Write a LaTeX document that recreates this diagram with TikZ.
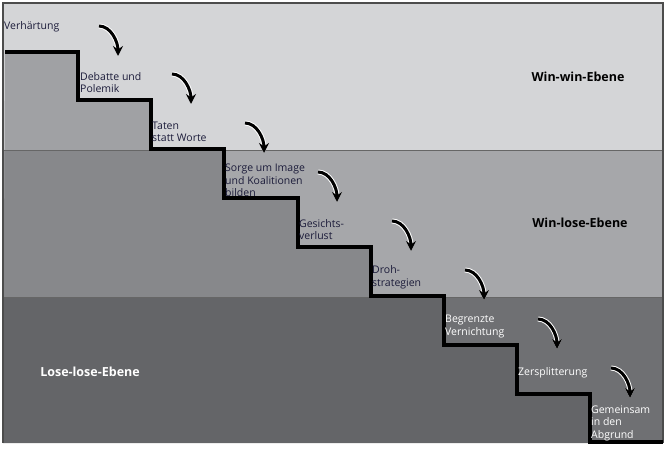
\documentclass[tikz,border=0pt]{standalone}
\usepackage{fontspec}
\setmainfont{Open Sans}
\definecolor{bandA}{HTML}{D4D5D7}
\definecolor{bandB}{HTML}{A6A7AA}
\definecolor{bandC}{HTML}{6F7073}
\definecolor{stepA}{HTML}{A0A1A4}
\definecolor{stepB}{HTML}{87888B}
\definecolor{stepC}{HTML}{646568}
\definecolor{ink}{HTML}{1C1C3A}
\usetikzlibrary{arrows.meta}
\tikzset{
  lbl/.style={anchor=south west, align=left, inner sep=1pt, font=\fontsize{10.5}{12.5}\selectfont, text=ink},
  lblw/.style={lbl, text=white},
  level/.style={font=\bfseries\fontsize{12.5}{14}\selectfont},
  curl/.style={line width=3pt, -{Stealth[length=10pt,width=10pt]}, preaction={draw=white, line width=5pt}}
}
\newcommand{\stairpath}{(5,52) -| (78,100) -| (151,149) -| (224,198) -| (298,247) -| (371,296) -| (444,345) -| (517,394) -| (590,442) -- (663,442)}
\begin{document}
\begin{tikzpicture}[x=1pt,y=-1pt]
        \useasboundingbox (0,0) rectangle (668,450);
        % bands
        \fill[bandA] (3,3) rectangle (663,150);
        \fill[bandB] (3,150) rectangle (663,297);
        \fill[bandC] (3,297) rectangle (663,443);
        \begin{scope}
            \clip (3,3) rectangle (663,150);
            \fill[stepA] \stairpath -- (663,443) -- (3,443) -- cycle;
        \end{scope}
        \begin{scope}
            \clip (3,150) rectangle (663,297);
            \fill[stepB] \stairpath -- (663,443) -- (3,443) -- cycle;
        \end{scope}
        \begin{scope}
            \clip (3,297) rectangle (663,443);
            \fill[stepC] \stairpath -- (663,443) -- (3,443) -- cycle;
        \end{scope}
        \draw[black!60, line width=0.8pt] (3,150) -- (663,150) (3,297) -- (663,297);
        \draw[black!70, line width=1.5pt] (3,443) |- (663,3) -- (663,443);
        \draw[line width=4pt, line join=miter] \stairpath;
        % labels
        \node[lbl] (s0) at (3,33) {Verhärtung};
        \node[lbl] (s1) at (79,94) {Debatte und\\Polemik};
        \node[lbl] (s2) at (151,143) {Taten\\statt Worte};
        \node[lbl] (s3) at (224,198) {Sorge um Image\\und Koalitionen\\bilden};
        \node[lbl] (s4) at (298,241) {Gesichts-\\verlust};
        \node[lbl] (s5) at (371,290) {Droh-\\strategien};
        \node[lblw] (s6) at (444,339) {Begrenzte\\Vernichtung};
        \node[lblw] (s7) at (517,379) {Zersplitterung};
        \node[lblw] (s8) at (590,442) {Gemeinsam\\in den\\Abgrund};
        % arrows
        \foreach \i/\x/\y in {0/5/52, 1/78/100, 2/151/149, 3/224/198, 4/298/247, 5/371/296, 6/444/345, 7/517/394}{
            \coordinate (a\i) at (\x+94,\y-26);
            \coordinate (b\i) at (\x+113,\y+4);
            \draw[curl] (a\i) .. controls +(12,0) and +(0,-14) .. (b\i);
        }
        \node[level] (ww) at (578,77) {Win-win-Ebene};
        \node[level] (wl) at (580,223) {Win-lose-Ebene};
        \node[level, text=white] (ll) at (90,372) {Lose-lose-Ebene};
\end{tikzpicture}
\end{document}
